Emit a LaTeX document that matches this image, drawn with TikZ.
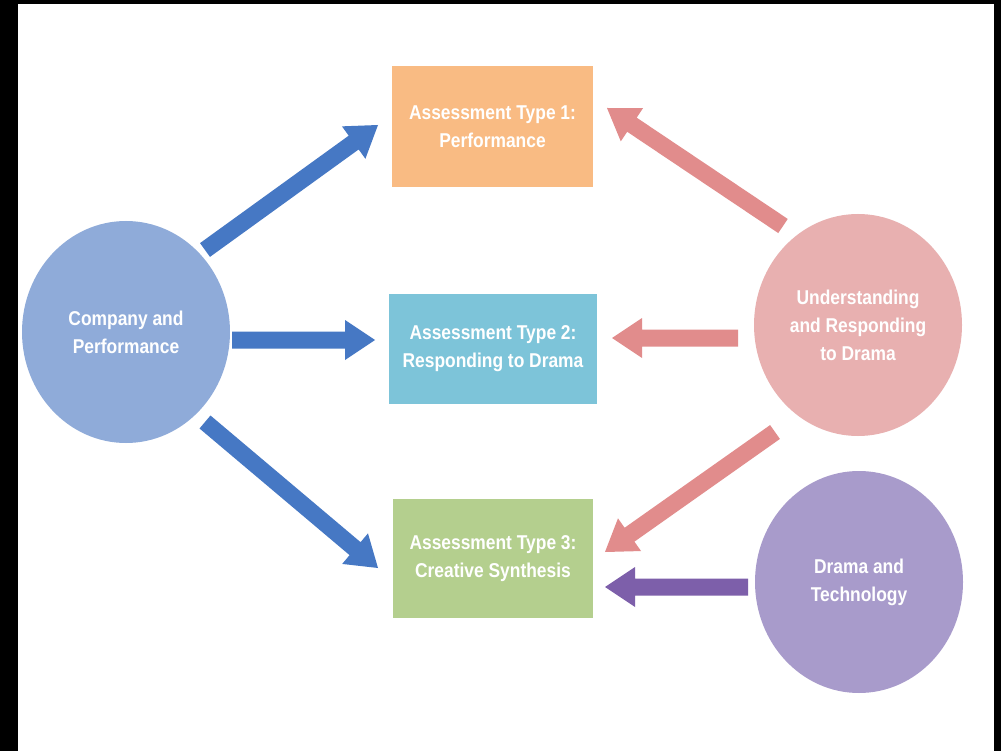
\documentclass[tikz,border=0pt]{standalone}
\usepackage{fontspec}
\setmainfont[FakeStretch=0.87]{Liberation Sans}
\usetikzlibrary{shapes.geometric,calc}
\definecolor{cpfill}{RGB}{143,171,217}
\definecolor{bluearr}{RGB}{70,120,196}
\definecolor{orangebox}{RGB}{249,187,131}
\definecolor{cyanbox}{RGB}{125,196,217}
\definecolor{greenbox}{RGB}{180,207,142}
\definecolor{urfill}{RGB}{232,176,176}
\definecolor{pinkarr}{RGB}{225,140,140}
\definecolor{dtfill}{RGB}{168,155,203}
\definecolor{purparr}{RGB}{125,95,170}
\newcommand{\blockarrow}[4]{%
  \coordinate (#4) at ($(#3)!30pt!(#2)$);
  \fill[#1] ($(#2)!8.5pt!90:(#3)$) -- ($(#4)!8.5pt!90:(#3)$) -- ($(#4)!20pt!90:(#3)$) -- (#3)
    -- ($(#4)!20pt!-90:(#3)$) -- ($(#4)!8.5pt!-90:(#3)$) -- ($(#2)!8.5pt!-90:(#3)$) -- cycle;
}
\tikzset{
  lbl/.style={text=white, align=center, font=\bfseries\fontsize{20}{28}\selectfont},
  circ/.style={lbl, ellipse, minimum width=208pt, minimum height=222pt, inner sep=0pt},
  abox/.style={lbl, rectangle, inner sep=0pt}
}
\begin{document}
\begin{tikzpicture}[x=1pt,y=-1pt]
\fill[black] (0,0) rectangle (1001,751);
\fill[white] (18,4) rectangle (994,751);
\useasboundingbox (0,0) rectangle (1001,751);

\node[circ, fill=cpfill] (cp) at (126,332) {Company and\\Performance};
\node[circ, fill=urfill] (ur) at (858,325) {Understanding\\and Responding\\to Drama};
\node[circ, fill=dtfill] (dt) at (859,582) {Drama and\\Technology};

\node[abox, fill=orangebox, minimum width=201pt, minimum height=121pt] (a1) at (492.5,126.5) {Assessment Type 1:\\Performance};
\node[abox, fill=cyanbox, minimum width=208pt, minimum height=110pt] (a2) at (493,349) {Assessment Type 2:\\Responding to Drama};
\node[abox, fill=greenbox, minimum width=200pt, minimum height=119pt] (a3) at (493,558.5) {Assessment Type 3:\\Creative Synthesis};

% arrow end points
\coordinate (b1t) at (205,250); \coordinate (b1h) at (378,125);
\coordinate (b2t) at (232,340); \coordinate (b2h) at (375,340);
\coordinate (b3t) at (205,422); \coordinate (b3h) at (378,568);
\coordinate (p1t) at (783,226); \coordinate (p1h) at (607,108);
\coordinate (p2t) at (738,338); \coordinate (p2h) at (612,338);
\coordinate (p3t) at (775,432); \coordinate (p3h) at (605,552);
\coordinate (q1t) at (748,587); \coordinate (q1h) at (605,587);

\blockarrow{bluearr}{b1t}{b1h}{b1b}
\blockarrow{bluearr}{b2t}{b2h}{b2b}
\blockarrow{bluearr}{b3t}{b3h}{b3b}
\blockarrow{pinkarr}{p1t}{p1h}{p1b}
\blockarrow{pinkarr}{p2t}{p2h}{p2b}
\blockarrow{pinkarr}{p3t}{p3h}{p3b}
\blockarrow{purparr}{q1t}{q1h}{q1b}
\end{tikzpicture}
\end{document}
